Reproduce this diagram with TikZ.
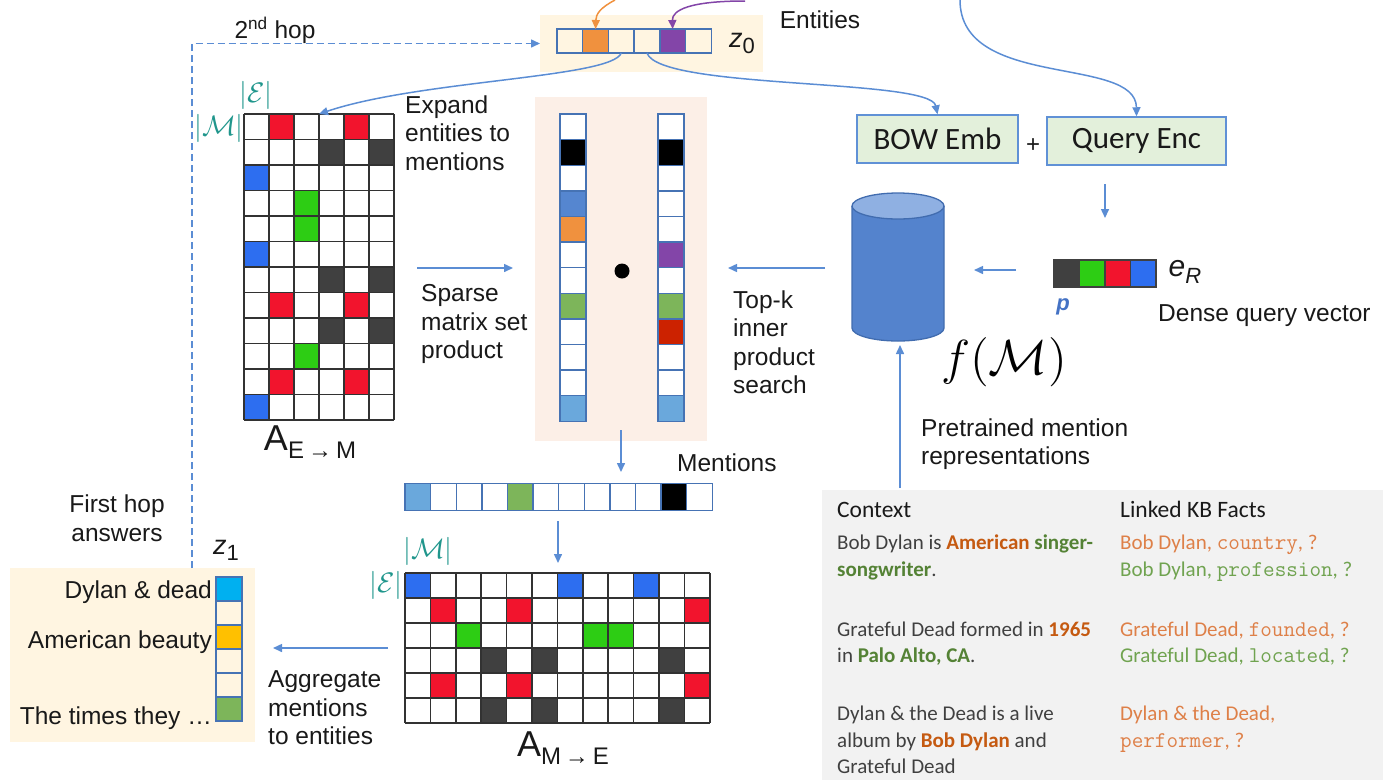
\documentclass[tikz,border=0pt]{standalone}
\usepackage[no-math]{fontspec}
\setmainfont{Liberation Sans}
\newfontfamily\tabfont{Carlito}
\usetikzlibrary{arrows.meta}

\definecolor{arrowblue}{RGB}{91,141,212}
\definecolor{vborder}{RGB}{70,115,180}
\definecolor{beige}{RGB}{255,245,225}
\definecolor{pinkbg}{RGB}{252,239,231}
\definecolor{tablebg}{RGB}{242,242,242}
\definecolor{boxfill}{RGB}{227,240,219}
\definecolor{boxedge}{RGB}{96,145,214}
\definecolor{cteal}{RGB}{32,150,140}
\definecolor{gridc}{RGB}{50,50,50}
\definecolor{cred}{RGB}{242,20,45}
\definecolor{cdark}{RGB}{64,64,64}
\definecolor{cblue}{RGB}{45,110,240}
\definecolor{cgreen}{RGB}{45,205,20}
\definecolor{corange}{RGB}{240,145,62}
\definecolor{cpurple}{RGB}{131,69,168}
\definecolor{cmblue}{RGB}{85,134,208}
\definecolor{clblue}{RGB}{106,168,220}
\definecolor{cvgreen}{RGB}{125,181,90}
\definecolor{cdred}{RGB}{204,34,0}
\definecolor{ccyan}{RGB}{0,176,240}
\definecolor{cyellow}{RGB}{255,192,0}
\definecolor{cylbody}{RGB}{84,131,205}
\definecolor{cyltop}{RGB}{143,176,226}
\definecolor{cyledge}{RGB}{65,108,175}
\definecolor{txt}{RGB}{25,25,25}
\definecolor{tabtxt}{RGB}{64,64,64}
\definecolor{orgbold}{RGB}{197,90,17}
\definecolor{grnbold}{RGB}{84,130,53}
\definecolor{orgfact}{RGB}{222,128,72}
\definecolor{grnfact}{RGB}{112,163,80}
\definecolor{pblue}{RGB}{68,114,196}

\newcommand{\lblfont}{\fontsize{24.5}{28.5}\selectfont}
\newcommand{\tabsize}{\fontsize{21}{26.5}\selectfont}
\newcommand{\ob}[1]{\textbf{\color{orgbold}#1}}
\newcommand{\gb}[1]{\textbf{\color{grnbold}#1}}
\newcommand{\rel}[1]{{\ttfamily\fontsize{22.5}{26.5}\selectfont #1}}

\begin{document}
\begin{tikzpicture}[x=1pt,y=-1pt,
  arr/.style={draw=arrowblue, line width=1.5pt, -{Triangle[length=9pt,width=8pt]}},
  lbl/.style={font=\lblfont, text=txt, inner sep=0pt, align=left},
  bgbox/.style={inner sep=0pt, outer sep=0pt, draw=none, anchor=north west},
  vcell/.style={draw=vborder, line width=1.4pt, inner sep=0pt, outer sep=0pt},
  ecell/.style={draw=cdark, line width=1.4pt, inner sep=0pt, outer sep=0pt},
  gridln/.style={draw=gridc, line width=1.5pt},
  encbox/.style={draw=boxedge, fill=boxfill, line width=1.5pt, inner sep=0pt, text=txt,
    font=\tabfont\fontsize{31}{31}\selectfont},
  tabtext/.style={anchor=base west, inner sep=0pt, font=\tabfont\tabsize, text=tabtxt},
  tabhead/.style={anchor=base west, inner sep=0pt, font=\tabfont\fontsize{23.5}{26.5}\selectfont, text=txt},
  teallbl/.style={text=cteal, inner sep=0pt, font=\fontsize{12}{14}\selectfont, scale=2.35}
]
\useasboundingbox (0,0) rectangle (1383,780);

% ---------- background panels ----------
\node[bgbox, fill=beige, minimum width=223, minimum height=57] (z0bg) at (540,15) {};
\node[bgbox, fill=pinkbg, minimum width=172, minimum height=344] (panel) at (535,97) {};
\node[bgbox, fill=beige, minimum width=245, minimum height=174] (z1bg) at (10,568) {};
\node[bgbox, fill=tablebg, minimum width=561, minimum height=290] (table) at (822,490) {};

% ---------- entity vector z0 ----------
\foreach \i/\f in {1/none,2/corange,3/none,4/none,5/cpurple,6/none}
  \node[vcell, fill=\f, minimum width=25.7, minimum height=24] (z0-\i) at ({557+(\i-0.5)*25.7},41) {};
\node[inner sep=0pt, text=txt] (z0lbl) at (742,43)
  {{\fontsize{27}{27}\selectfont\itshape z}{\fontsize{22}{22}\selectfont\raisebox{-6pt}{0}}};
\node[lbl] (entities) at (820,20) {Entities};

% incoming entity arrows
\coordinate (osrc) at (615,0);
\coordinate (psrc) at (745,1);
\draw[arr, draw=corange] (osrc) .. controls (600,8) and (596,14) .. (z0-2.north);
\draw[arr, draw=cpurple] (psrc) .. controls (690,1) and (672,10) .. (z0-5.north);

% ---------- sparse matrix A_{E->M} ----------
\node[bgbox, minimum width=150, minimum height=306] (leftmat) at (244,114) {};
\foreach \c/\r/\f in {2/1/cred,5/1/cred,4/2/cdark,6/2/cdark,1/3/cblue,3/4/cgreen,3/5/cgreen,
    1/6/cblue,4/7/cdark,6/7/cdark,2/8/cred,5/8/cred,4/9/cdark,6/9/cdark,3/10/cgreen,
    2/11/cred,5/11/cred,1/12/cblue}
  \fill[\f] ({244+(\c-1)*25},{114+(\r-1)*25.5}) rectangle ++(25,25.5);
\foreach \i in {0,...,6} \draw[gridln] ({244+\i*25},114) -- ({244+\i*25},420);
\foreach \j in {0,...,12} \draw[gridln] (244,{114+\j*25.5}) -- (394,{114+\j*25.5});
\node[teallbl] (lmE) at (256,95) {$|\mathcal{E}|$};
\node[teallbl] (lmM) at (219,128) {$|\mathcal{M}|$};
\node[inner sep=0pt, text=txt] (lmname) at (310,442)
  {{\fontsize{36}{36}\selectfont A}{\fontsize{24}{24}\selectfont\raisebox{-8pt}{E\,\char"2192\,M}}};

\node[lbl, anchor=west] (expand) at (405,133) {Expand\\entities to\\mentions};
\node[lbl, anchor=west] (sparse) at (421,324) {Sparse\\matrix set\\product};

% ---------- mention vectors in the product panel ----------
\foreach \i/\f in {1/white,2/black,3/white,4/cmblue,5/corange,6/white,7/white,8/cvgreen,
    9/white,10/white,11/white,12/clblue}
  \node[vcell, fill=\f, minimum width=26, minimum height=25.6] (vl-\i) at (573,{114+(\i-0.5)*25.6}) {};
\foreach \i/\f in {1/white,2/black,3/white,4/white,5/white,6/cpurple,7/white,8/cvgreen,
    9/cdred,10/white,11/white,12/clblue}
  \node[vcell, fill=\f, minimum width=26, minimum height=25.6] (vr-\i) at (671,{114+(\i-0.5)*25.6}) {};
\node[circle, fill=black, minimum size=15, inner sep=0pt] (dot) at (622,271) {};

% ---------- query side ----------
\node[encbox, minimum width=161, minimum height=48] (bow) at (937.5,139) {BOW Emb};
\node[encbox, minimum width=179, minimum height=48] (qenc) at (1136.5,141) {Query Enc};
\node[inner sep=0pt, text=txt, font=\fontsize{24}{24}\selectfont] (plus) at (1033,146) {+};

\foreach \i/\f in {1/cdark,2/cgreen,3/cred,4/cblue}
  \node[ecell, fill=\f, minimum width=25.5, minimum height=27] (er-\i) at ({1054+(\i-0.5)*25.5},273.5) {};
\node[inner sep=0pt, text=txt] (erlbl) at (1185,272)
  {{\fontsize{30}{30}\selectfont\itshape e}{\fontsize{22}{22}\selectfont\itshape\raisebox{-7pt}{R}}};
\node[inner sep=0pt, text=pblue, font=\fontsize{22}{22}\selectfont\bfseries\itshape] (plbl) at (1063,307) {p};
\node[lbl, anchor=west] (dense) at (1158,316) {Dense query vector};

% mention memory (cylinder)
\node[inner sep=0pt, minimum width=92, minimum height=148] (cyl) at (898,268) {};
\fill[cylbody] (852,206) -- (852,328) arc[start angle=180, end angle=0, x radius=46, y radius=13] -- (944,206) -- cycle;
\draw[cyledge, line width=1.3pt] (852,206) -- (852,328) arc[start angle=180, end angle=0, x radius=46, y radius=13] -- (944,206);
\filldraw[fill=cyltop, draw=cyledge, line width=1.3pt] (898,206) ellipse[x radius=46, y radius=13];
\node[inner sep=0pt, text=black, font=\fontsize{12}{14}\selectfont, scale=4.1] (fM) at (1004,362) {$f(\mathcal{M})$};

\node[lbl, anchor=west] (topk) at (733,342) {Top-k\\inner\\product\\search};
\node[lbl, anchor=west] (pretr) at (921,444) {Pretrained mention\\representations};

% ---------- mentions vector and A_{M->E} ----------
\foreach \i/\f in {1/clblue,2/white,3/white,4/white,5/cvgreen,6/white,7/white,8/white,
    9/white,10/white,11/black,12/white}
  \node[vcell, fill=\f, minimum width=25.6, minimum height=27] (ment-\i) at ({405+(\i-0.5)*25.6},497) {};
\node[lbl, anchor=west] (mentlbl) at (677,463) {Mentions};

\node[bgbox, minimum width=305, minimum height=150] (botmat) at (405,573) {};
\foreach \c/\r/\f in {1/1/cblue,7/1/cblue,10/1/cblue,2/2/cred,5/2/cred,12/2/cred,
    3/3/cgreen,8/3/cgreen,9/3/cgreen,4/4/cdark,6/4/cdark,11/4/cdark,
    2/5/cred,5/5/cred,12/5/cred,4/6/cdark,6/6/cdark,11/6/cdark}
  \fill[\f] ({405+(\c-1)*25.4},{573+(\r-1)*25}) rectangle ++(25.4,25);
\foreach \i in {0,...,12} \draw[gridln] ({405+\i*25.4},573) -- ({405+\i*25.4},723);
\foreach \j in {0,...,6} \draw[gridln] (405,{573+\j*25}) -- (709.8,{573+\j*25});
\node[teallbl] (bmM) at (428,551) {$|\mathcal{M}|$};
\node[teallbl] (bmE) at (386,585) {$|\mathcal{E}|$};
\node[inner sep=0pt, text=txt] (bmname) at (563,748)
  {{\fontsize{36}{36}\selectfont A}{\fontsize{24}{24}\selectfont\raisebox{-8pt}{M\,\char"2192\,E}}};

\node[lbl, anchor=west] (aggr) at (268,708) {Aggregate\\mentions\\to entities};

% ---------- first-hop answers z1 ----------
\foreach \i/\f in {1/ccyan,2/none,3/cyellow,4/none,5/none,6/cvgreen}
  \node[vcell, fill=\f, minimum width=26, minimum height=24] (z1-\i) at (229,{577+(\i-0.5)*24}) {};
\node[inner sep=0pt, text=txt] (z1lbl) at (226,550)
  {{\fontsize{27}{27}\selectfont\itshape z}{\fontsize{22}{22}\selectfont\raisebox{-6pt}{1}}};
\node[lbl, anchor=east] (ans1) at (212,592) {Dylan \& dead};
\node[lbl, anchor=east] (ans2) at (212,642) {American beauty};
\node[lbl, anchor=east] (ans3) at (212,718) {The times they …};
\node[lbl, align=center] (firsthop) at (117,518) {First hop\\answers};
\node[lbl] (hoplbl) at (275,30) {2\textsuperscript{nd} hop};

% ---------- context table ----------
\node[tabhead] (tc0) at (837,517) {Context};
\node[tabtext] (tc1) at (837,549) {Bob Dylan is \ob{American} \gb{singer-}};
\node[tabtext] (tc2) at (837,576) {\gb{songwriter}.};
\node[tabtext] (tc3) at (837,636) {Grateful Dead formed in \ob{1965}};
\node[tabtext] (tc4) at (837,662) {in \gb{Palo Alto, CA}.};
\node[tabtext] (tc5) at (837,720) {Dylan \& the Dead is a live};
\node[tabtext] (tc6) at (837,747) {album by \ob{Bob Dylan} and};
\node[tabtext] (tc7) at (837,773) {Grateful Dead};
\node[tabhead] (tf0) at (1120,517) {Linked KB Facts};
\node[tabtext, text=orgfact] (tf1) at (1120,549) {Bob Dylan, \rel{country}, ?};
\node[tabtext, text=grnfact] (tf2) at (1120,576) {Bob Dylan, \rel{profession}, ?};
\node[tabtext, text=orgfact] (tf3) at (1120,636) {Grateful Dead, \rel{founded}, ?};
\node[tabtext, text=grnfact] (tf4) at (1120,662) {Grateful Dead, \rel{located}, ?};
\node[tabtext, text=orgfact] (tf5) at (1120,720) {Dylan \& the Dead,};
\node[tabtext, text=orgfact] (tf6) at (1120,747) {\rel{performer}, ?};

% ---------- connectors ----------
\coordinate (qtop) at (960,0);
\coordinate (hopstart) at (192,568);
\coordinate (qa) at (1105,184);
\coordinate (qb) at (1105,218);
\coordinate (ea) at (1016,270);
\coordinate (eb) at (974,270);
\coordinate (ca) at (825,268);
\coordinate (cb) at (728,268);
\coordinate (la) at (417,268);
\coordinate (lb) at (513,268);
\coordinate (pa) at (621,430);
\coordinate (pb) at (621,472);
\coordinate (ma) at (558,521);
\coordinate (mb) at (558,563);
\coordinate (ba) at (388,648);
\coordinate (bb) at (273,648);
\coordinate (ta) at (900,488);
\coordinate (tb) at (900,345);

\draw[arr] (z0-3.south) .. controls (612,78) and (420,80) .. (leftmat.north);
\draw[arr] (z0-4.south) .. controls (660,90) and (930,78) .. (bow.north);
\draw[arr] (qtop) .. controls (960,90) and (1136,55) .. (qenc.north);
\draw[arr] (qa) -- (qb);
\draw[arr] (ea) -- (eb);
\draw[arr] (ca) -- (cb);
\draw[arr] (la) -- (lb);
\draw[arr] (pa) -- (pb);
\draw[arr] (ma) -- (mb);
\draw[arr] (ba) -- (bb);
\draw[arr] (ta) -- (tb);
\draw[arr, dash pattern=on 7pt off 4pt] (hopstart) |- (z0bg.west);
\end{tikzpicture}
\end{document}
